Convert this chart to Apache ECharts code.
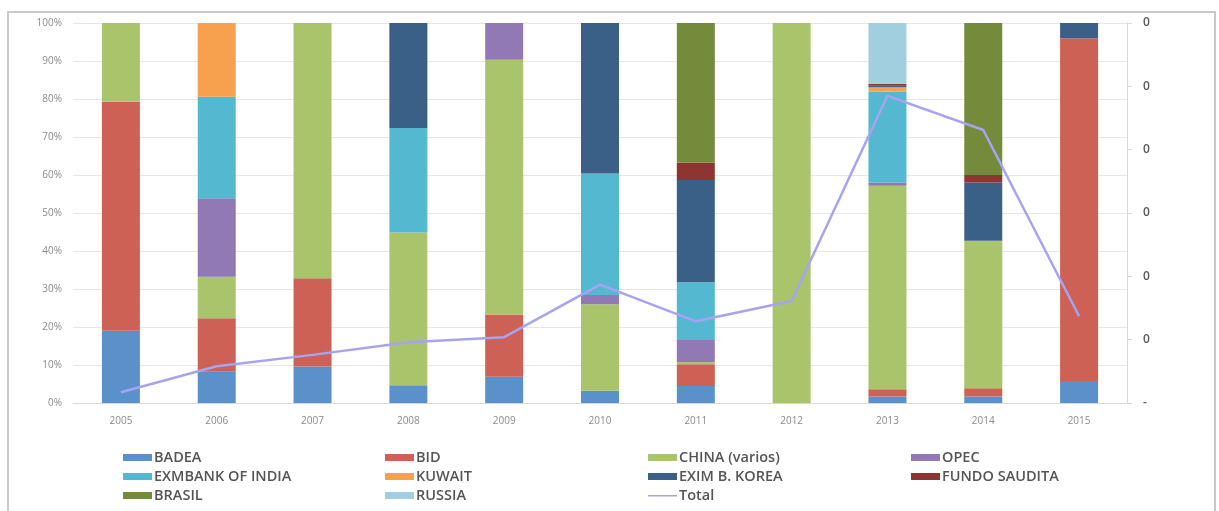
<!DOCTYPE html>
<html>
<head>
<meta charset="utf-8">
<script src="https://cdn.jsdelivr.net/npm/echarts@6/dist/echarts.min.js"></script>
<style>
html,body{margin:0;padding:0;background:#fff;}
#frame{position:absolute;left:7px;top:11px;width:1209px;height:520px;border:2px solid #c8c8c8;box-sizing:border-box;}
#chart{position:absolute;left:0;top:0;width:1219px;height:511px;}
</style>
</head>
<body>
<div id="frame"></div>
<div id="chart"></div>
<script>
const years = ['2005','2006','2007','2008','2009','2010','2011','2012','2013','2014','2015'];
// shares (%) per lender
const badea   = [19.0, 8.2, 9.6, 4.7, 6.9, 3.2, 4.5, 0, 1.7, 1.7, 5.8];
const bid     = [60.3, 14.1, 23.2, 0, 16.4, 0, 5.7, 0, 1.9, 2.2, 90.2];
const china   = [20.7, 10.9, 67.2, 40.2, 67.0, 22.8, 0.6, 100, 53.6, 38.8, 0];
const opec    = [0, 20.7, 0, 0, 9.7, 2.4, 5.8, 0, 0.8, 0, 0];
const india   = [0, 26.7, 0, 27.5, 0, 32.0, 15.2, 0, 23.9, 0, 0];
const kuwait  = [0, 19.4, 0, 0, 0, 0, 0, 0, 1.2, 0, 0];
const korea   = [0, 0, 0, 27.6, 0, 39.6, 26.9, 0, 0.4, 15.3, 4.0];
const saudi   = [0, 0, 0, 0, 0, 0, 4.6, 0, 0.5, 2.0, 0];
const brasil  = [0, 0, 0, 0, 0, 0, 36.7, 0, 0, 40.0, 0];
const russia  = [0, 0, 0, 0, 0, 0, 0, 0, 16.0, 0, 0];
// Total (secondary axis)
const total   = [0.017, 0.058, 0.076, 0.096, 0.104, 0.187, 0.129, 0.161, 0.485, 0.431, 0.137];
const leftTickLabels  = ['0%','10%','20%','30%','40%','50%','60%','70%','80%','90%','100%'];
const rightTickLabels = ['-','0','0','0','0','0','0'];

const barSeries = [
  ['BADEA', badea, '#5a91cb'],
  ['BID', bid, '#cd6155'],
  ['CHINA (varios)', china, '#a9c46b'],
  ['OPEC', opec, '#9179b5'],
  ['EXMBANK OF INDIA', india, '#55b8d1'],
  ['KUWAIT', kuwait, '#f7a04e'],
  ['EXIM B. KOREA', korea, '#3b6088'],
  ['FUNDO SAUDITA', saudi, '#8e3532'],
  ['BRASIL', brasil, '#748b3c'],
  ['RUSSIA', russia, '#a0d0df']
];

const series = barSeries.map(([name, data, color]) => ({
  name, type: 'bar', stack: 'a', data, barWidth: 38,
  itemStyle: {color}, emphasis: {disabled: true}
}));
series.push({
  name: 'Total', type: 'line', yAxisIndex: 1, data: total,
  symbol: 'none', lineStyle: {color: '#a7a3f2', width: 2.5}, itemStyle: {color: '#a7a3f2'}
});

const lineIcon = 'path://M0,0L0.01,0L0.01,0.01ZM0,3L30,3L30,4.6L0,4.6ZM30,7L29.99,7L29.99,6.99Z';
const legendText = {color: '#555555', fontSize: 14.5, fontFamily: 'Open Sans', fontWeight: 600, padding: [0, 0, 0, -3]};
function col(x, names) {
  return {
    left: x, top: 450, height: 80, orient: 'vertical', itemGap: 4, itemWidth: 29, itemHeight: 7,
    padding: 0,
    textStyle: legendText,
    data: names.map(n => n === 'Total' ? {name: n, icon: lineIcon, itemStyle: {color: '#a7a3f2'}} : {name: n, icon: 'rect'}),
    selectedMode: false
  };
}

const chart = echarts.init(document.getElementById('chart'));
chart.setOption({
  animation: false,
  grid: {left: 73, right: 92, top: 23, bottom: 108},
  legend: [
    col(123, ['BADEA', 'EXMBANK OF INDIA', 'BRASIL']),
    col(385, ['BID', 'KUWAIT', 'RUSSIA']),
    col(648, ['CHINA (varios)', 'EXIM B. KOREA', 'Total']),
    col(911, ['OPEC', 'FUNDO SAUDITA'])
  ],
  xAxis: {
    type: 'category', data: years,
    axisLine: {show: true, lineStyle: {color: '#d9d9d9'}},
    axisTick: {show: false},
    axisLabel: {color: '#8a8a8a', fontSize: 10, fontFamily: 'Open Sans', margin: 13}
  },
  yAxis: [
    {
      type: 'value', min: 0, max: 100, interval: 10,
      axisLine: {show: false}, axisTick: {show: false},
      splitLine: {lineStyle: {color: '#e6e6e6'}},
      axisLabel: {color: '#8a8a8a', fontSize: 10, fontFamily: 'Open Sans', margin: 11,
        formatter: v => leftTickLabels[Math.round(v / 10)]}
    },
    {
      type: 'value', min: 0, max: 0.6, interval: 0.1,
      axisLine: {show: true, lineStyle: {color: '#d9d9d9'}},
      axisTick: {show: true, length: 5, lineStyle: {color: '#d9d9d9'}},
      splitLine: {show: false},
      axisLabel: {color: '#595959', fontSize: 12, fontFamily: 'Open Sans', fontWeight: 600, margin: 16,
        formatter: v => rightTickLabels[Math.round(v * 10)]}
    }
  ],
  series
});
</script>
</body>
</html>
